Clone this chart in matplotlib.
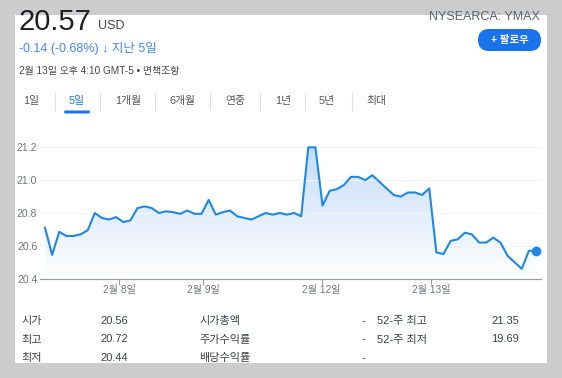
import numpy as np
import matplotlib
matplotlib.use('Agg')
import matplotlib.pyplot as plt
from matplotlib.patches import Rectangle, FancyBboxPatch, Polygon

plt.rcParams['font.family'] = ['Liberation Sans', 'Noto Sans CJK KR', 'DejaVu Sans']

# 가격 데이터 (5일, 30분 간격)
prices = [20.71, 20.545, 20.685, 20.66, 20.66, 20.67, 20.695, 20.80, 20.77, 20.76,
          20.775, 20.745, 20.755, 20.83, 20.84, 20.83, 20.80, 20.81, 20.805, 20.795,
          20.815, 20.795, 20.795, 20.88, 20.79, 20.805, 20.815, 20.78, 20.77, 20.76,
          20.78, 20.80, 20.79, 20.80, 20.79, 20.80, 20.78, 21.20, 21.20, 20.845,
          20.935, 20.945, 20.97, 21.02, 21.02, 21.00, 21.03, 20.99, 20.95, 20.91,
          20.90, 20.925, 20.925, 20.91, 20.95, 20.56, 20.55, 20.63, 20.64, 20.68,
          20.67, 20.62, 20.62, 20.65, 20.62, 20.54, 20.50, 20.46, 20.57, 20.57]
date_ticks = [10.44, 22.25, 38.88, 54.24]
date_labels = ['2월 8일', '2월 9일', '2월 12일', '2월 13일']
y_ticks = [20.4, 20.6, 20.8, 21.0, 21.2]

tabs = ['1일', '5일', '1개월', '6개월', '연중', '1년', '5년', '최대']
col1_labels = ['시가', '최고', '최저']
col1_values = ['20.56', '20.72', '20.44']
col2_labels = ['시가총액', '주가수익률', '배당수익률']
col2_values = ['-', '-', '-']
col3_labels = ['52-주 최고', '52-주 최저', '']
col3_values = ['21.35', '19.69', '']

W, H = 562, 378
BLUE = '#1a73e8'
LINE = '#1e88e5'

fig = plt.figure(figsize=(W / 100, H / 100), dpi=100)
fig.patch.set_facecolor('#cccccc')

# 픽셀 좌표 오버레이
bg = fig.add_axes([0, 0, 1, 1])
bg.set_xlim(0, W)
bg.set_ylim(H, 0)
bg.axis('off')
bg.add_patch(Rectangle((15, 15), 532, 348, facecolor='white', edgecolor='none', zorder=0))

bg.text(19, 30, '20.57', fontsize=21, color='#202124', va='baseline')
bg.text(98, 29, 'USD', fontsize=9, color='#444444', va='baseline')
bg.text(540, 20, 'NYSEARCA: YMAX', fontsize=9, color='#5f6368', ha='right', va='baseline')
bg.text(19, 52, '-0.14 (-0.68%) ↓ 지난 5일', fontsize=9, color='#4285f4', va='baseline')
bg.text(19, 74, '2월 13일 오후 4:10 GMT-5 • 면책조항', fontsize=7.2, color='#444444', va='baseline')

# 팔로우 버튼
bg.add_patch(FancyBboxPatch((478, 29), 63, 22, boxstyle='round,pad=0,rounding_size=11',
                            facecolor=BLUE, edgecolor='none', zorder=2))
bg.text(510, 40.5, '+ 팔로우', fontsize=7.5, color='white', ha='center', va='center',
        fontweight='bold', zorder=3)

# 탭
tab_x = [31, 77, 128, 183, 235, 283, 327, 376]
sep_x = [54.5, 100, 155, 210, 259.5, 305, 351.5]
for i, t in enumerate(tabs):
    bg.text(tab_x[i], 101, t, fontsize=7.8, ha='center', va='center',
            color=BLUE if t == '5일' else '#555555')
for sx in sep_x:
    bg.plot([sx, sx], [93, 110], color='#e0e0e0', lw=0.8)
bg.add_patch(FancyBboxPatch((64, 110.5), 26, 3, boxstyle='round,pad=0,rounding_size=1.5',
                            facecolor=BLUE, edgecolor='none'))

# 하단 표
row_y = [321, 339.5, 358]
for i in range(3):
    bg.text(21, row_y[i], col1_labels[i], fontsize=8, color='#3c4043', va='center', zorder=3)
    bg.text(100, row_y[i], col1_values[i], fontsize=8, color='#3c4043', va='center', zorder=3)
    bg.text(199, row_y[i], col2_labels[i], fontsize=8, color='#3c4043', va='center', zorder=3)
    bg.text(361, row_y[i], col2_values[i], fontsize=8, color='#3c4043', va='center', zorder=3)
    bg.text(377, row_y[i], col3_labels[i], fontsize=8, color='#3c4043', va='center', zorder=3)
    bg.text(519, row_y[i], col3_values[i], fontsize=8, color='#3c4043', va='center',
            ha='right', zorder=3)
bg.add_patch(Rectangle((0, 362.7), W, H - 362.7, facecolor='#cccccc', edgecolor='none', zorder=5))

# 차트
ax_l, ax_r, ax_b, ax_t = 40, 541, 278.7, 140
ax = fig.add_axes([ax_l / W, 1 - ax_b / H, (ax_r - ax_l) / W, (ax_b - ax_t) / H])
ax.patch.set_alpha(0)
x = np.arange(len(prices))
step = 7.116
x0 = (ax_l - 45) / step
x1 = len(prices) - 1 + (ax_r - 536) / step
y_top = 20.4 + (ax_b - ax_t) * 0.2 / 32.85

# 그라데이션 채우기
rgb = matplotlib.colors.to_rgb('#4a90e2')
grad = np.zeros((256, 1, 4))
grad[:, 0, :3] = rgb
grad[:, 0, 3] = np.linspace(0, 0.32, 256)
im = ax.imshow(grad, extent=[x0, x1, 20.4, 21.2], origin='lower', aspect='auto', zorder=1)
verts = np.column_stack([np.r_[x, x[-1], x[0]], np.r_[prices, 20.4, 20.4]])
clip = Polygon(verts, closed=True, transform=ax.transData, facecolor='none')
im.set_clip_path(clip)
ax.set_xlim(x0, x1)
ax.set_ylim(20.4, y_top)

ax.plot(x, prices, color=LINE, lw=1.5, zorder=3)
ax.plot(x[-1], prices[-1], 'o', color=LINE, ms=6, zorder=4)

ax.set_yticks(y_ticks)
ax.set_yticklabels(['%.1f' % v for v in y_ticks])
ax.set_xticks(date_ticks)
ax.set_xticklabels(date_labels)
ax.grid(axis='y', color='#f3f3f3', lw=0.8, zorder=0)
for s in ['top', 'left', 'right']:
    ax.spines[s].set_visible(False)
ax.spines['bottom'].set_color('#9aa0a6')
ax.spines['bottom'].set_linewidth(0.9)
ax.tick_params(axis='y', length=0, pad=2, labelsize=7.5, labelcolor='#70757a')
ax.tick_params(axis='x', length=4, width=0.8, color='#9aa0a6', pad=0.5, labelsize=7.3,
               labelcolor='#70757a')

fig.savefig('out.png', dpi=100)
